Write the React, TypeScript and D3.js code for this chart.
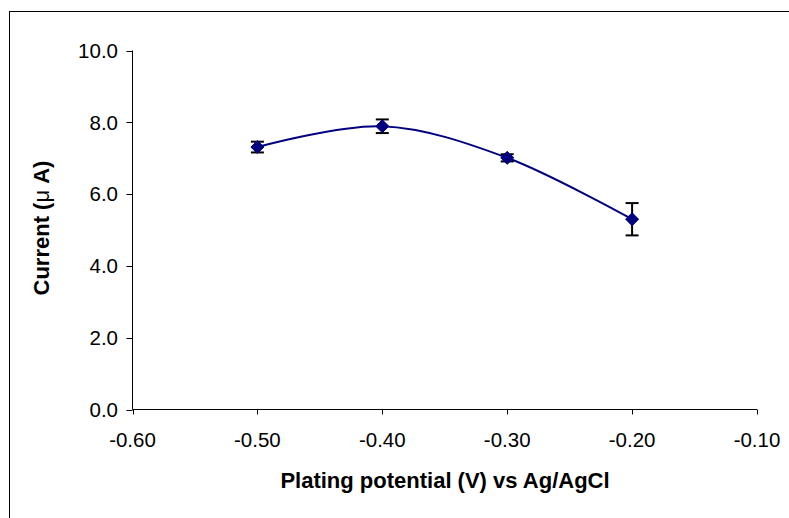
import React from "react";
import * as d3 from "d3";

const potentials = [-0.5, -0.4, -0.3, -0.2];
const currents = [7.31, 7.89, 7.01, 5.3];
const errors = [0.15, 0.19, 0.1, 0.45];
const xTicks = [-0.6, -0.5, -0.4, -0.3, -0.2, -0.1];
const yTicks = [0, 2, 4, 6, 8, 10];

const W = 789;
const H = 518;
const left = 132.5;
const right = 757;
const top = 50.5;
const bottom = 409.5;

export default function App() {
  const x = d3.scaleLinear().domain([-0.6, -0.1]).range([left, right]);
  const y = d3.scaleLinear().domain([0, 10]).range([bottom, top]);
  const pts = potentials.map((p, i) => [x(p), y(currents[i])] as [number, number]);
  const line = d3.line().curve(d3.curveCatmullRom.alpha(0))(pts) || "";
  const font = "'Liberation Sans', Arial, sans-serif";
  return (
    <svg
      width={W}
      height={H}
      style={{ position: "absolute", left: 0, top: 0, background: "#fff" }}
    >
      <rect x={9.5} y={11.5} width={900} height={700} fill="none" stroke="#000" strokeWidth={1} />
      {/* y axis */}
      <line x1={left} x2={left} y1={top} y2={bottom} stroke="#000" />
      {yTicks.map((t) => (
        <g key={"y" + t}>
          <line x1={left - 6} x2={left} y1={Math.round(y(t)) + 0.5} y2={Math.round(y(t)) + 0.5} stroke="#000" />
          <text
            x={118}
            y={y(t)}
            dy="0.36em"
            textAnchor="end"
            fontFamily={font}
            fontSize={20.5}
            fill="#000"
          >
            {t.toFixed(1)}
          </text>
        </g>
      ))}
      {/* x axis */}
      <line x1={left} x2={right} y1={bottom} y2={bottom} stroke="#000" />
      {xTicks.map((t) => (
        <g key={"x" + t}>
          <line x1={Math.round(x(t)) + 0.5} x2={Math.round(x(t)) + 0.5} y1={bottom} y2={bottom + 5} stroke="#000" />
          <text
            x={x(t)}
            y={447}
            textAnchor="middle"
            fontFamily={font}
            fontSize={20.5}
            fill="#000"
          >
            {t.toFixed(2)}
          </text>
        </g>
      ))}
      <text
        x={445}
        y={488}
        textAnchor="middle"
        fontFamily={font}
        fontWeight="bold"
        fontSize={22}
        fill="#000"
      >
        Plating potential (V) vs Ag/AgCl
      </text>
      <text
        transform={`translate(49,228) rotate(-90)`}
        textAnchor="middle"
        fontFamily={font}
        fontWeight="bold"
        fontSize={22}
        fill="#000"
      >
        Current (<tspan fontWeight="normal">μ</tspan> A)
      </text>
      {/* line */}
      <path d={line} fill="none" stroke="#000080" strokeWidth={2} />
      {/* error bars */}
      {potentials.map((p, i) => {
        const cx = x(p);
        const y1 = y(currents[i] + errors[i]);
        const y2 = y(currents[i] - errors[i]);
        return (
          <g key={"e" + i} stroke="#000" strokeWidth={2}>
            <line x1={cx} x2={cx} y1={y1} y2={y2} />
            <line x1={cx - 6.5} x2={cx + 6.5} y1={y1} y2={y1} />
            <line x1={cx - 6.5} x2={cx + 6.5} y1={y2} y2={y2} />
          </g>
        );
      })}
      {/* markers */}
      {pts.map(([px, py], i) => (
        <path
          key={"m" + i}
          d={`M${px},${py - 6.5}L${px + 6.5},${py}L${px},${py + 6.5}L${px - 6.5},${py}Z`}
          fill="#000080"
          stroke="#000080"
          strokeWidth={1}
        />
      ))}
    </svg>
  );
}
